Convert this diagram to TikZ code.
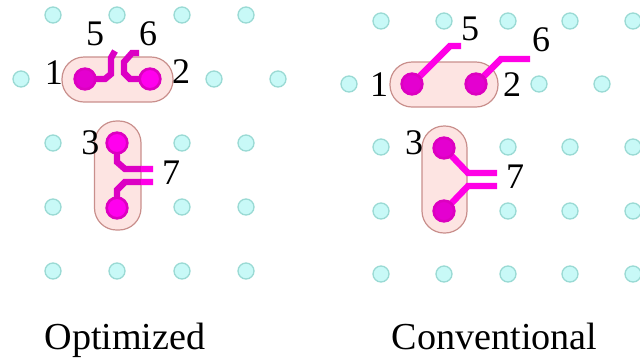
\documentclass[tikz,border=0pt]{standalone}
\usepackage{fontspec}
\usetikzlibrary{backgrounds}
\setmainfont{Liberation Serif}
\definecolor{sitefill}{HTML}{C8F9F7}
\definecolor{siteedge}{HTML}{9ADAD4}
\definecolor{groupfill}{HTML}{FDE4E2}
\definecolor{groupedge}{HTML}{C98F8C}
\definecolor{wirebright}{HTML}{FF00E6}
\definecolor{wiredark}{HTML}{DC00C4}
\definecolor{dotring}{HTML}{DC00C0}
\definecolor{dotbright}{HTML}{FF00EE}
\definecolor{dotmid}{HTML}{E400D0}
\tikzset{
  site/.style={circle,draw=siteedge,fill=sitefill,line width=1pt,minimum size=12pt,inner sep=0pt},
  group/.style={draw=groupedge,fill=groupfill,line width=0.9pt,rounded corners=16.5pt},
  qubit/.style={circle,draw=dotring,fill=dotmid,line width=2pt,minimum size=15.5pt,inner sep=0pt},
  qubitb/.style={qubit,fill=dotbright},
  wire/.style={draw=wirebright,line width=4.8pt,line join=miter},
  wired/.style={wire,draw=wiredark,line width=4.8pt},
  num/.style={font=\fontsize{27}{27}\selectfont,inner sep=0pt,text=black},
  captext/.style={font=\fontsize{28.6}{30}\selectfont,inner sep=0pt,text=black,anchor=base}
}
\begin{document}
\begin{tikzpicture}[x=0.75pt,y=-0.75pt]
\useasboundingbox (0,0) rectangle (640,362);
% left lattice
\foreach \n/\x/\y in {a/53/15,b/117/15,c/182/15,d/246/15,
  e/21/79,f/214/79,g/278/79,
  h/53/143,i/182/143,j/246/143,
  k/53/207,l/182/207,m/246/207,
  n/53/271,o/117/271,p/182/271,q/246/271}
  \node[site] (L\n) at (\x,\y) {};
% right lattice
\foreach \n/\x/\y in {a/381/21,b/444/21,c/508/21,d/570/21,r/633/21,
  e/349/84,f/539/84,g/602/84,
  h/381/147,i/508/147,j/570/147,s/633/147,
  k/381/211,l/508/211,m/570/211,t/633/211,
  n/381/274,o/444/274,p/508/274,q/570/274,u/633/274}
  \node[site] (R\n) at (\x,\y) {};
% qubits
\node[qubit] (A1) at (85,79) {};
\node[qubitb] (A2) at (150,79) {};
\node[qubitb] (A3) at (117,143) {};
\node[qubitb] (A4) at (117,208) {};
\node[qubit] (B1) at (412,84) {};
\node[qubit] (B2) at (476,84) {};
\node[qubit] (B3) at (444,148) {};
\node[qubit] (B4) at (444,211) {};
% free ends
\coordinate (A5) at (115,51);
\coordinate (A6) at (139,53);
\coordinate (A7) at (153,169);
\coordinate (A8) at (153,182);
\coordinate (A7e) at (141,169);
\coordinate (A8e) at (141,182);
\coordinate (B5) at (461,46);
\coordinate (B6) at (530,59);
\coordinate (B7) at (497,173);
\coordinate (B8) at (497,186);
\begin{pgfonlayer}{background}
% groups
\draw[group] (62,57) rectangle (173,102);
\draw[group] (94.5,121) rectangle (141,230);
\draw[group] (390,62) rectangle (498,107);
\draw[group] (422,126) rectangle (467,233);
% wires
\draw[wired] (A1.center) -- (105,79) -- (111,74) -- (111,58) -- (A5);
\draw[wired] (A2.center) -- (130,79) -- (124,73) -- (124,62) -- (132,53) -- (A6);
\draw[wired] (A3.center) -- (117,162) -- (125,169) -- (A7);
\draw[wired] (A4.center) -- (117,190) -- (125,182) -- (A8);
\draw[wire] (A7e) -- (A7);
\draw[wire] (A8e) -- (A8);
\draw[wire] (B1.center) -- (450,46) -- (B5);
\draw[wire] (B2.center) -- (501,59) -- (B6);
\draw[wire] (B3.center) -- (468,173) -- (B7);
\draw[wire] (B4.center) -- (468,186) -- (B8);
\end{pgfonlayer}
% labels
\node[num] (n1) at (54,73) {1};
\node[num] (n2) at (181,72) {2};
\node[num] (n3) at (90.5,143) {3};
\node[num] (n5) at (95,34) {5};
\node[num] (n6) at (148,34) {6};
\node[num] (n7) at (171,173) {7};
\node[num] (m1) at (379,85) {1};
\node[num] (m2) at (512,85) {2};
\node[num] (m3) at (414,143) {3};
\node[num] (m5) at (470,29) {5};
\node[num] (m6) at (541,40) {6};
\node[num] (m7) at (515,177) {7};
\node[captext] (t1) at (125,349) {Optimized};
\node[captext] (t2) at (494.5,349) {Conventional};
\end{tikzpicture}
\end{document}
